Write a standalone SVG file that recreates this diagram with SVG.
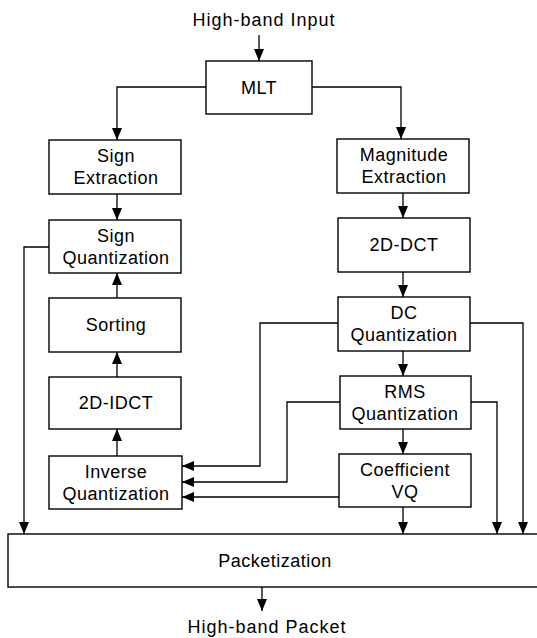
<svg xmlns="http://www.w3.org/2000/svg" width="537" height="638" viewBox="0 0 537 638">
<defs>
<style>
.box{fill:#fff;stroke:#000;stroke-width:1.4}
.lbl{font-family:"Liberation Sans",Arial,sans-serif;font-size:18px;letter-spacing:0.5px;fill:#000;text-anchor:middle}
.io{font-family:"Liberation Sans",Arial,sans-serif;font-size:18px;letter-spacing:1px;fill:#000;text-anchor:middle}
.ln{fill:none;stroke:#000;stroke-width:1.3}
</style>
<marker id="ah" viewBox="0 0 12 10" refX="12" refY="5" markerWidth="12" markerHeight="10" markerUnits="userSpaceOnUse" orient="auto">
<path d="M0,0 L12,5 L0,10 z" fill="#000"/>
</marker>
</defs>
<rect width="537" height="638" fill="#fff"/>
<text class="io" x="264" y="26">High-band Input</text>
<text class="io" x="267" y="633">High-band Packet</text>
<g id="connectors">
<line class="ln" x1="259" y1="35" x2="259" y2="61" marker-end="url(#ah)"/>
<polyline class="ln" points="206,87 117,87 117,140" marker-end="url(#ah)"/>
<polyline class="ln" points="312,87 401,87 401,139" marker-end="url(#ah)"/>
<line class="ln" x1="117" y1="194" x2="117" y2="220" marker-end="url(#ah)"/>
<line class="ln" x1="403" y1="193" x2="403" y2="218" marker-end="url(#ah)"/>
<line class="ln" x1="403" y1="272" x2="403" y2="297" marker-end="url(#ah)"/>
<line class="ln" x1="403" y1="351" x2="403" y2="376" marker-end="url(#ah)"/>
<line class="ln" x1="403" y1="429" x2="403" y2="454" marker-end="url(#ah)"/>
<line class="ln" x1="403" y1="507" x2="403" y2="534" marker-end="url(#ah)"/>
<line class="ln" x1="117" y1="298" x2="117" y2="273" marker-end="url(#ah)"/>
<line class="ln" x1="117" y1="377" x2="117" y2="352" marker-end="url(#ah)"/>
<line class="ln" x1="117" y1="456" x2="117" y2="429" marker-end="url(#ah)"/>
<polyline class="ln" points="49,247 24,247 24,534" marker-end="url(#ah)"/>
<polyline class="ln" points="338,323 260,323 260,466 182,466" marker-end="url(#ah)"/>
<polyline class="ln" points="340,402 287,402 287,482 182,482" marker-end="url(#ah)"/>
<line class="ln" x1="339" y1="497" x2="182" y2="497" marker-end="url(#ah)"/>
<polyline class="ln" points="470,323 523,323 523,534" marker-end="url(#ah)"/>
<polyline class="ln" points="471,402 497,402 497,534" marker-end="url(#ah)"/>
<line class="ln" x1="262" y1="587" x2="262" y2="611" marker-end="url(#ah)"/>
</g>
<g id="mlt"><rect class="box" x="206" y="61" width="106" height="53"/><text class="lbl" x="259" y="94">MLT</text></g>
<g id="sign-extraction"><rect class="box" x="49" y="140" width="132" height="54"/><text class="lbl" x="116" y="162">Sign</text><text class="lbl" x="116" y="184">Extraction</text></g>
<g id="magnitude-extraction"><rect class="box" x="337" y="139" width="132" height="54"/><text class="lbl" x="404" y="161">Magnitude</text><text class="lbl" x="404" y="183">Extraction</text></g>
<g id="sign-quantization"><rect class="box" x="49" y="220" width="132" height="53"/><text class="lbl" x="116" y="242">Sign</text><text class="lbl" x="116" y="264">Quantization</text></g>
<g id="dct"><rect class="box" x="338" y="218" width="132" height="54"/><text class="lbl" x="404" y="251">2D-DCT</text></g>
<g id="sorting"><rect class="box" x="49" y="298" width="132" height="54"/><text class="lbl" x="116" y="331">Sorting</text></g>
<g id="dc-quantization"><rect class="box" x="338" y="297" width="132" height="54"/><text class="lbl" x="404" y="319">DC</text><text class="lbl" x="404" y="341">Quantization</text></g>
<g id="idct"><rect class="box" x="49" y="377" width="132" height="52"/><text class="lbl" x="116" y="409">2D-IDCT</text></g>
<g id="rms-quantization"><rect class="box" x="340" y="376" width="131" height="53"/><text class="lbl" x="405" y="398">RMS</text><text class="lbl" x="405" y="420">Quantization</text></g>
<g id="inverse-quantization"><rect class="box" x="49" y="456" width="133" height="53"/><text class="lbl" x="116" y="478">Inverse</text><text class="lbl" x="116" y="500">Quantization</text></g>
<g id="coefficient-vq"><rect class="box" x="339" y="454" width="132" height="53"/><text class="lbl" x="405" y="476">Coefficient</text><text class="lbl" x="405" y="498">VQ</text></g>
<g id="packetization"><rect class="box" x="8" y="534" width="540" height="53"/><text class="lbl" x="275" y="567">Packetization</text></g>
</svg>
